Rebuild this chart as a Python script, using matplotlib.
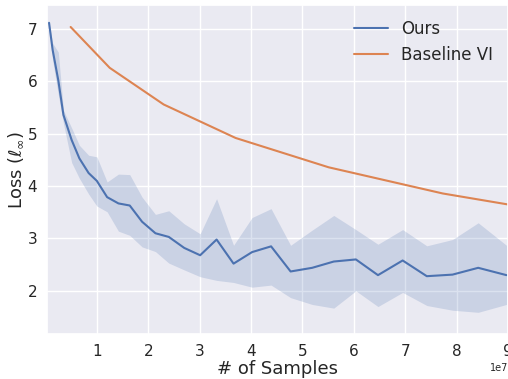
import numpy as np
import matplotlib
matplotlib.use("Agg")
import matplotlib.pyplot as plt
import seaborn as sns

# Data (x in units of 1e7 samples)
ours_x = [0.07, 0.14, 0.25, 0.35, 0.51, 0.66, 0.84, 1.0, 1.2, 1.42, 1.64, 1.88,
          2.14, 2.40, 2.70, 3.01, 3.33, 3.66, 4.02, 4.39, 4.77, 5.19, 5.61, 6.04,
          6.47, 6.95, 7.42, 7.92, 8.42, 8.97]
ours_y = [7.12, 6.60, 6.02, 5.36, 4.88, 4.53, 4.25, 4.10, 3.79, 3.67, 3.63, 3.32,
          3.10, 3.03, 2.82, 2.68, 2.98, 2.52, 2.74, 2.85, 2.37, 2.44, 2.56, 2.60,
          2.30, 2.58, 2.28, 2.31, 2.44, 2.30]
ours_hi = [7.12, 6.73, 6.56, 5.45, 5.11, 4.78, 4.59, 4.56, 4.08, 4.23, 4.22, 3.79,
           3.46, 3.53, 3.28, 3.09, 3.76, 2.87, 3.40, 3.57, 2.87, 3.16, 3.44, 3.17,
           2.89, 3.17, 2.86, 2.98, 3.30, 2.87]
ours_lo = [7.12, 6.40, 5.75, 5.20, 4.45, 4.15, 3.85, 3.62, 3.51, 3.14, 3.06, 2.84,
           2.75, 2.53, 2.40, 2.27, 2.20, 2.16, 2.07, 2.11, 1.87, 1.74, 1.67, 2.00,
           1.70, 1.97, 1.72, 1.63, 1.59, 1.74]
base_x = [0.49, 1.25, 2.30, 3.70, 5.51, 7.73, 9.0]
base_y = [7.04, 6.26, 5.56, 4.92, 4.36, 3.86, 3.65]

sns.set_theme(style="darkgrid")
plt.rcParams['font.family'] = ['DejaVu Sans']

fig = plt.figure(figsize=(5.08, 3.79), dpi=100)
ax = fig.add_axes([47/508, 1 - 334.3/379, (508 - 47)/508, (334.3 - 5)/379])

scale = 1e7
blue = sns.color_palette("deep")[0]
orange = sns.color_palette("deep")[1]
ax.plot(np.array(ours_x) * scale, ours_y, color=blue, lw=1.5, label="Ours")
ax.fill_between(np.array(ours_x) * scale, ours_lo, ours_hi, color=blue, alpha=0.2, lw=0)
ax.plot(np.array(base_x) * scale, base_y, color=orange, lw=1.5, label="Baseline VI")

ax.set_xlim(0.03 * scale, 9.0 * scale)
ax.set_ylim(1.17, 7.46)
ax.set_xticks(np.arange(1, 10) * scale)
ax.tick_params(labelsize=11, pad=1)
ax.xaxis.get_offset_text().set_fontsize(7)
ax.set_xlabel("# of Samples", fontsize=13, labelpad=1)
ax.set_ylabel(r"Loss ($\ell_\infty$)", fontsize=13, labelpad=2)
ax.legend(loc="upper right", frameon=False, fontsize=12)

fig.savefig("out.png", dpi=100)
